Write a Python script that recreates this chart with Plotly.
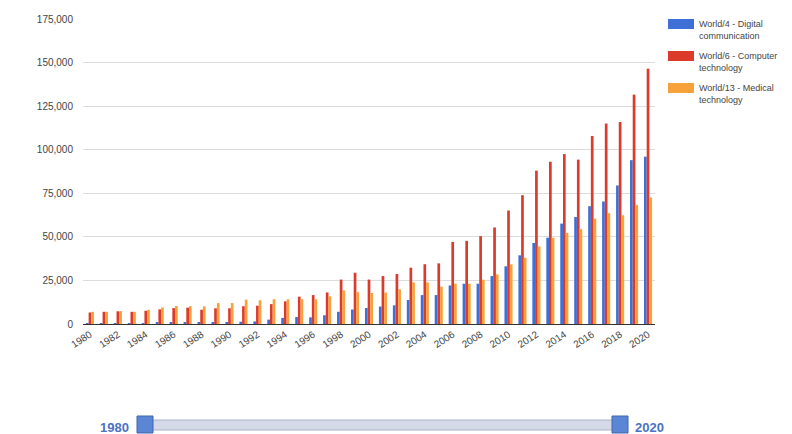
import plotly.graph_objects as go

years = [str(y) for y in range(1980, 2021)]
tick_years = [str(y) for y in range(1980, 2021, 2)]

series_names = ["World/4 - Digital<br>communication",
                "World/6 - Computer<br>technology",
                "World/13 - Medical<br>technology"]
series_colors = ["#3d6fd6", "#dc3b2b", "#f7a13a"]

digital = [300, 350, 400, 450, 500, 600, 700, 800, 900, 1000,
           1100, 1300, 1500, 2500, 3500, 4000, 3800, 5000, 7000, 8300,
           9200, 10000, 10700, 13800, 16600, 16600, 22100, 23100, 23100, 27500,
           33100, 39400, 46500, 49500, 57600, 61400, 67600, 70300, 79500, 94000,
           96000]
computer = [6600, 7000, 7300, 7000, 7600, 8400, 9100, 9400, 8200, 9000,
            9000, 10200, 10500, 11400, 13000, 15700, 16600, 18100, 25500, 29400,
            25500, 27500, 28700, 32300, 34300, 34800, 47100, 47700, 50400, 55400,
            65100, 73900, 88000, 93100, 97500, 94300, 107900, 115000, 115900, 131600,
            146500]
medical = [7000, 7000, 7400, 7000, 8200, 9500, 10300, 10200, 10100, 12000,
           12000, 14000, 13600, 14200, 14200, 14200, 14200, 15900, 19300, 18300,
           17800, 18000, 19900, 23900, 23900, 21400, 23100, 23100, 25400, 28500,
           34200, 38000, 44500, 49500, 52200, 54400, 60500, 63600, 62400, 68200,
           72600]

series_values = [digital, computer, medical]

W, H = 792, 434
L, R, T, B = 83, 655, 19, 324

def px(xp):
    return (xp - L) / (R - L)

def py(yp):
    return (B - yp) / (B - T)

fig = go.Figure()
for name, vals, col in zip(series_names, series_values, series_colors):
    fig.add_trace(go.Bar(x=years, y=vals, name=name.replace("<br>", " "),
                         marker=dict(color=col, line=dict(width=0))))

font_family = "Liberation Sans, Arial, sans-serif"

shapes = []
annotations = []

# manual legend
legend_y = [24, 56, 88]
for name, col, ly in zip(series_names, series_colors, legend_y):
    shapes.append(dict(type="rect", xref="paper", yref="paper",
                       x0=px(668), x1=px(694), y0=py(ly + 5), y1=py(ly - 5),
                       fillcolor=col, line=dict(width=0)))
    annotations.append(dict(xref="paper", yref="paper", x=px(697), y=py(ly - 7),
                            xanchor="left", yanchor="top", align="left",
                            text=name, showarrow=False,
                            font=dict(family=font_family, size=9, color="#444")))

# range filter control at bottom
slider_col = "#4a72c4"
shapes.append(dict(type="rect", xref="paper", yref="paper",
                   x0=px(145), x1=px(620), y0=py(430), y1=py(420),
                   fillcolor="#d3d9e6", line=dict(color="#aab4c8", width=1)))
for hx in (145, 620):
    shapes.append(dict(type="rect", xref="paper", yref="paper",
                       x0=px(hx - 8), x1=px(hx + 8), y0=py(433), y1=py(416),
                       fillcolor="#5b86d6", line=dict(color="#3f66b0", width=1)))
annotations.append(dict(xref="paper", yref="paper", x=px(131), y=py(427),
                        xanchor="right", yanchor="middle", text="<b>" + years[0] + "</b>",
                        showarrow=False, font=dict(family=font_family, size=13, color=slider_col)))
annotations.append(dict(xref="paper", yref="paper", x=px(633), y=py(427),
                        xanchor="left", yanchor="middle", text="<b>" + years[-1] + "</b>",
                        showarrow=False, font=dict(family=font_family, size=13, color=slider_col)))

fig.update_layout(
    width=W, height=H,
    margin=dict(l=L, r=W - R, t=T, b=H - B, pad=0),
    paper_bgcolor="white", plot_bgcolor="white",
    barmode="group", bargap=0.42, bargroupgap=0.0,
    showlegend=False,
    font=dict(family=font_family, size=10, color="#444"),
    shapes=shapes, annotations=annotations,
)
fig.update_xaxes(type="category", tickmode="array", tickvals=tick_years, ticktext=tick_years,
                 tickangle=-33, showgrid=False, showline=True, linecolor="#333", linewidth=1,
                 ticks="", tickfont=dict(size=10, color="#444"))
fig.update_yaxes(range=[0, 175000], dtick=25000, tickformat=",d", showgrid=True,
                 gridcolor="#dcdcdc", gridwidth=1, zeroline=False, showline=False,
                 ticks="", ticklabelstandoff=9, tickfont=dict(size=10, color="#444"))

fig.write_html("out.html", config={"displayModeBar": False},
               post_script="document.body.style.margin='0';")
